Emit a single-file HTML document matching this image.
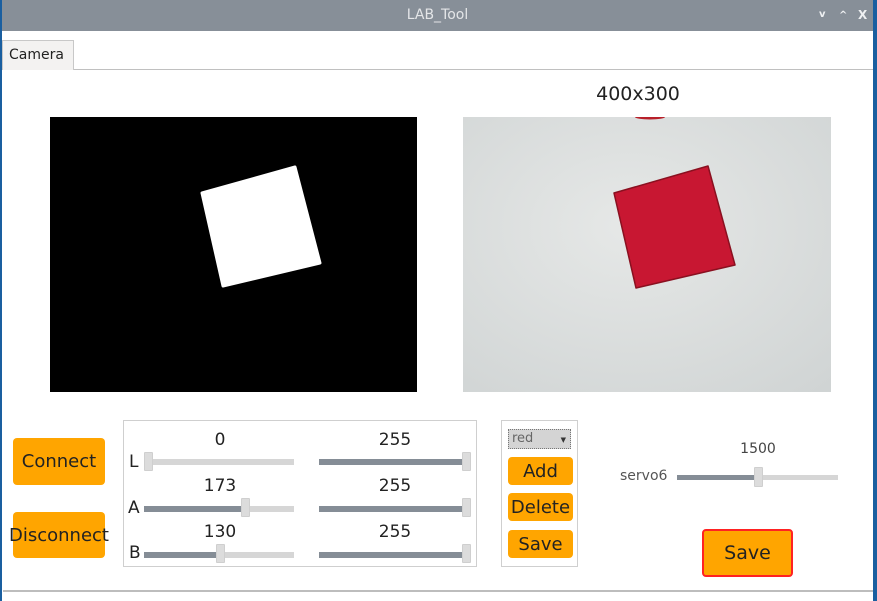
<!DOCTYPE html>
<html><head><meta charset="utf-8"><style>
*{box-sizing:border-box;margin:0;padding:0}
body{width:877px;height:601px;overflow:hidden;background:#1a5fa0;font-family:"DejaVu Sans","Liberation Sans",sans-serif;position:relative;color:#222}
.a{position:absolute}
.btn{position:absolute;background:#ffa500;border-radius:4px;display:flex;align-items:center;justify-content:center;font-size:18px;color:#222}
.track{position:absolute;height:6px;background:#d6d6d6}
.fill{position:absolute;left:0;top:0;height:6px;background:#858d96}
.handle{position:absolute;width:9px;height:19px;background:#dcdcdc;border:1px solid #cfcfcf;border-radius:1px}
.val{position:absolute;font-size:17px;text-align:center;width:60px}
.lab{position:absolute;font-size:17px}
</style></head><body>
<div class="a" style="left:2px;top:0;width:871px;height:31px;background:#878f98;color:#e4e6e8;font-size:14px;text-align:center;line-height:31px">LAB_Tool</div>
<div class="a" style="left:819px;top:9px;color:#eef0f2;font-size:10px;font-weight:bold">v</div>
<div class="a" style="left:839px;top:10px;color:#eef0f2;font-size:10px;font-weight:bold">^</div>
<div class="a" style="left:858px;top:8px;color:#eef0f2;font-size:12px;font-weight:bold">X</div>
<div class="a" style="left:2px;top:31px;width:871px;height:570px;background:#fff"></div>
<div class="a" style="left:2px;top:40px;width:72px;height:30px;background:#f3f2f1;border:1px solid #c8c8c8;border-bottom:none;font-size:14px;line-height:28px;padding-left:6px">Camera</div>
<div class="a" style="left:74px;top:69px;width:799px;height:1px;background:#c0c0c0"></div>
<div class="a" style="left:3px;top:590px;width:870px;height:2px;background:#bdbdbd"></div>
<div class="a" style="left:578px;top:83px;width:120px;text-align:center;font-size:19px">400x300</div>
<svg class="a" style="left:50px;top:117px" width="367" height="275"><rect width="367" height="275" fill="#000"/><polygon points="152,76 245,50 270,146 173,169" fill="#fff" stroke="#fff" stroke-width="3" stroke-linejoin="round"/></svg>
<svg class="a" style="left:463px;top:117px" width="368" height="275"><defs><radialGradient id="g" cx="0.45" cy="0.4" r="0.8"><stop offset="0" stop-color="#e6e8e7"/><stop offset="1" stop-color="#d0d4d4"/></radialGradient></defs><rect width="368" height="275" fill="url(#g)"/><ellipse cx="187" cy="0" rx="15" ry="2.5" fill="#b8202a"/><polygon points="151,76 245,49 272,148 173,171" fill="#c81732" stroke="#8a1020" stroke-width="1.5" stroke-linejoin="round"/></svg>
<div class="btn" style="left:13px;top:438px;width:92px;height:47px">Connect</div>
<div class="btn" style="left:13px;top:512px;width:92px;height:46px">Disconnect</div>
<div class="a" style="left:123px;top:420px;width:354px;height:147px;border:1px solid #cfcfcf"></div>
<div class="val" style="left:190px;top:430px">0</div>
<div class="val" style="left:365px;top:430px">255</div>
<div class="val" style="left:190px;top:476px">173</div>
<div class="val" style="left:365px;top:476px">255</div>
<div class="val" style="left:190px;top:522px">130</div>
<div class="val" style="left:365px;top:522px">255</div>
<div class="lab" style="left:129px;top:452px">L</div>
<div class="lab" style="left:128px;top:498px">A</div>
<div class="lab" style="left:129px;top:543px">B</div>
<div class="track" style="left:144px;top:459px;width:150px"><div class="handle" style="left:0;top:-7px"></div></div>
<div class="track" style="left:319px;top:459px;width:152px"><div class="fill" style="width:148px"></div><div class="handle" style="left:143px;top:-7px"></div></div>
<div class="track" style="left:144px;top:506px;width:150px"><div class="fill" style="width:100px"></div><div class="handle" style="left:97px;top:-8px"></div></div>
<div class="track" style="left:319px;top:506px;width:152px"><div class="fill" style="width:148px"></div><div class="handle" style="left:143px;top:-8px"></div></div>
<div class="track" style="left:144px;top:552px;width:150px"><div class="fill" style="width:76px"></div><div class="handle" style="left:72px;top:-8px"></div></div>
<div class="track" style="left:319px;top:552px;width:152px"><div class="fill" style="width:148px"></div><div class="handle" style="left:143px;top:-8px"></div></div>
<div class="a" style="left:501px;top:420px;width:77px;height:147px;border:1px solid #cfcfcf"></div>
<div class="a" style="left:508px;top:429px;width:63px;height:20px;background:#d4d4d4;border:1px dotted #777;font-size:13px;color:#666;line-height:18px;padding-left:3px">red<span style="position:absolute;right:4px;top:1px;font-size:7px;color:#333">&#9660;</span></div>
<div class="btn" style="left:508px;top:457px;width:65px;height:28px">Add</div>
<div class="btn" style="left:508px;top:493px;width:65px;height:28px">Delete</div>
<div class="btn" style="left:508px;top:530px;width:65px;height:28px">Save</div>
<div class="a" style="left:728px;top:441px;width:60px;text-align:center;font-size:14px;color:#444">1500</div>
<div class="a" style="left:620px;top:468px;font-size:14px;color:#555">servo6</div>
<div class="track" style="left:677px;top:475px;width:161px;height:5px"><div class="fill" style="width:80px;height:5px"></div><div class="handle" style="left:77px;top:-8px;height:20px"></div></div>
<div class="btn" style="left:702px;top:529px;width:91px;height:48px;border:2px solid #ff2222;font-size:19px">Save</div>
</body></html>
